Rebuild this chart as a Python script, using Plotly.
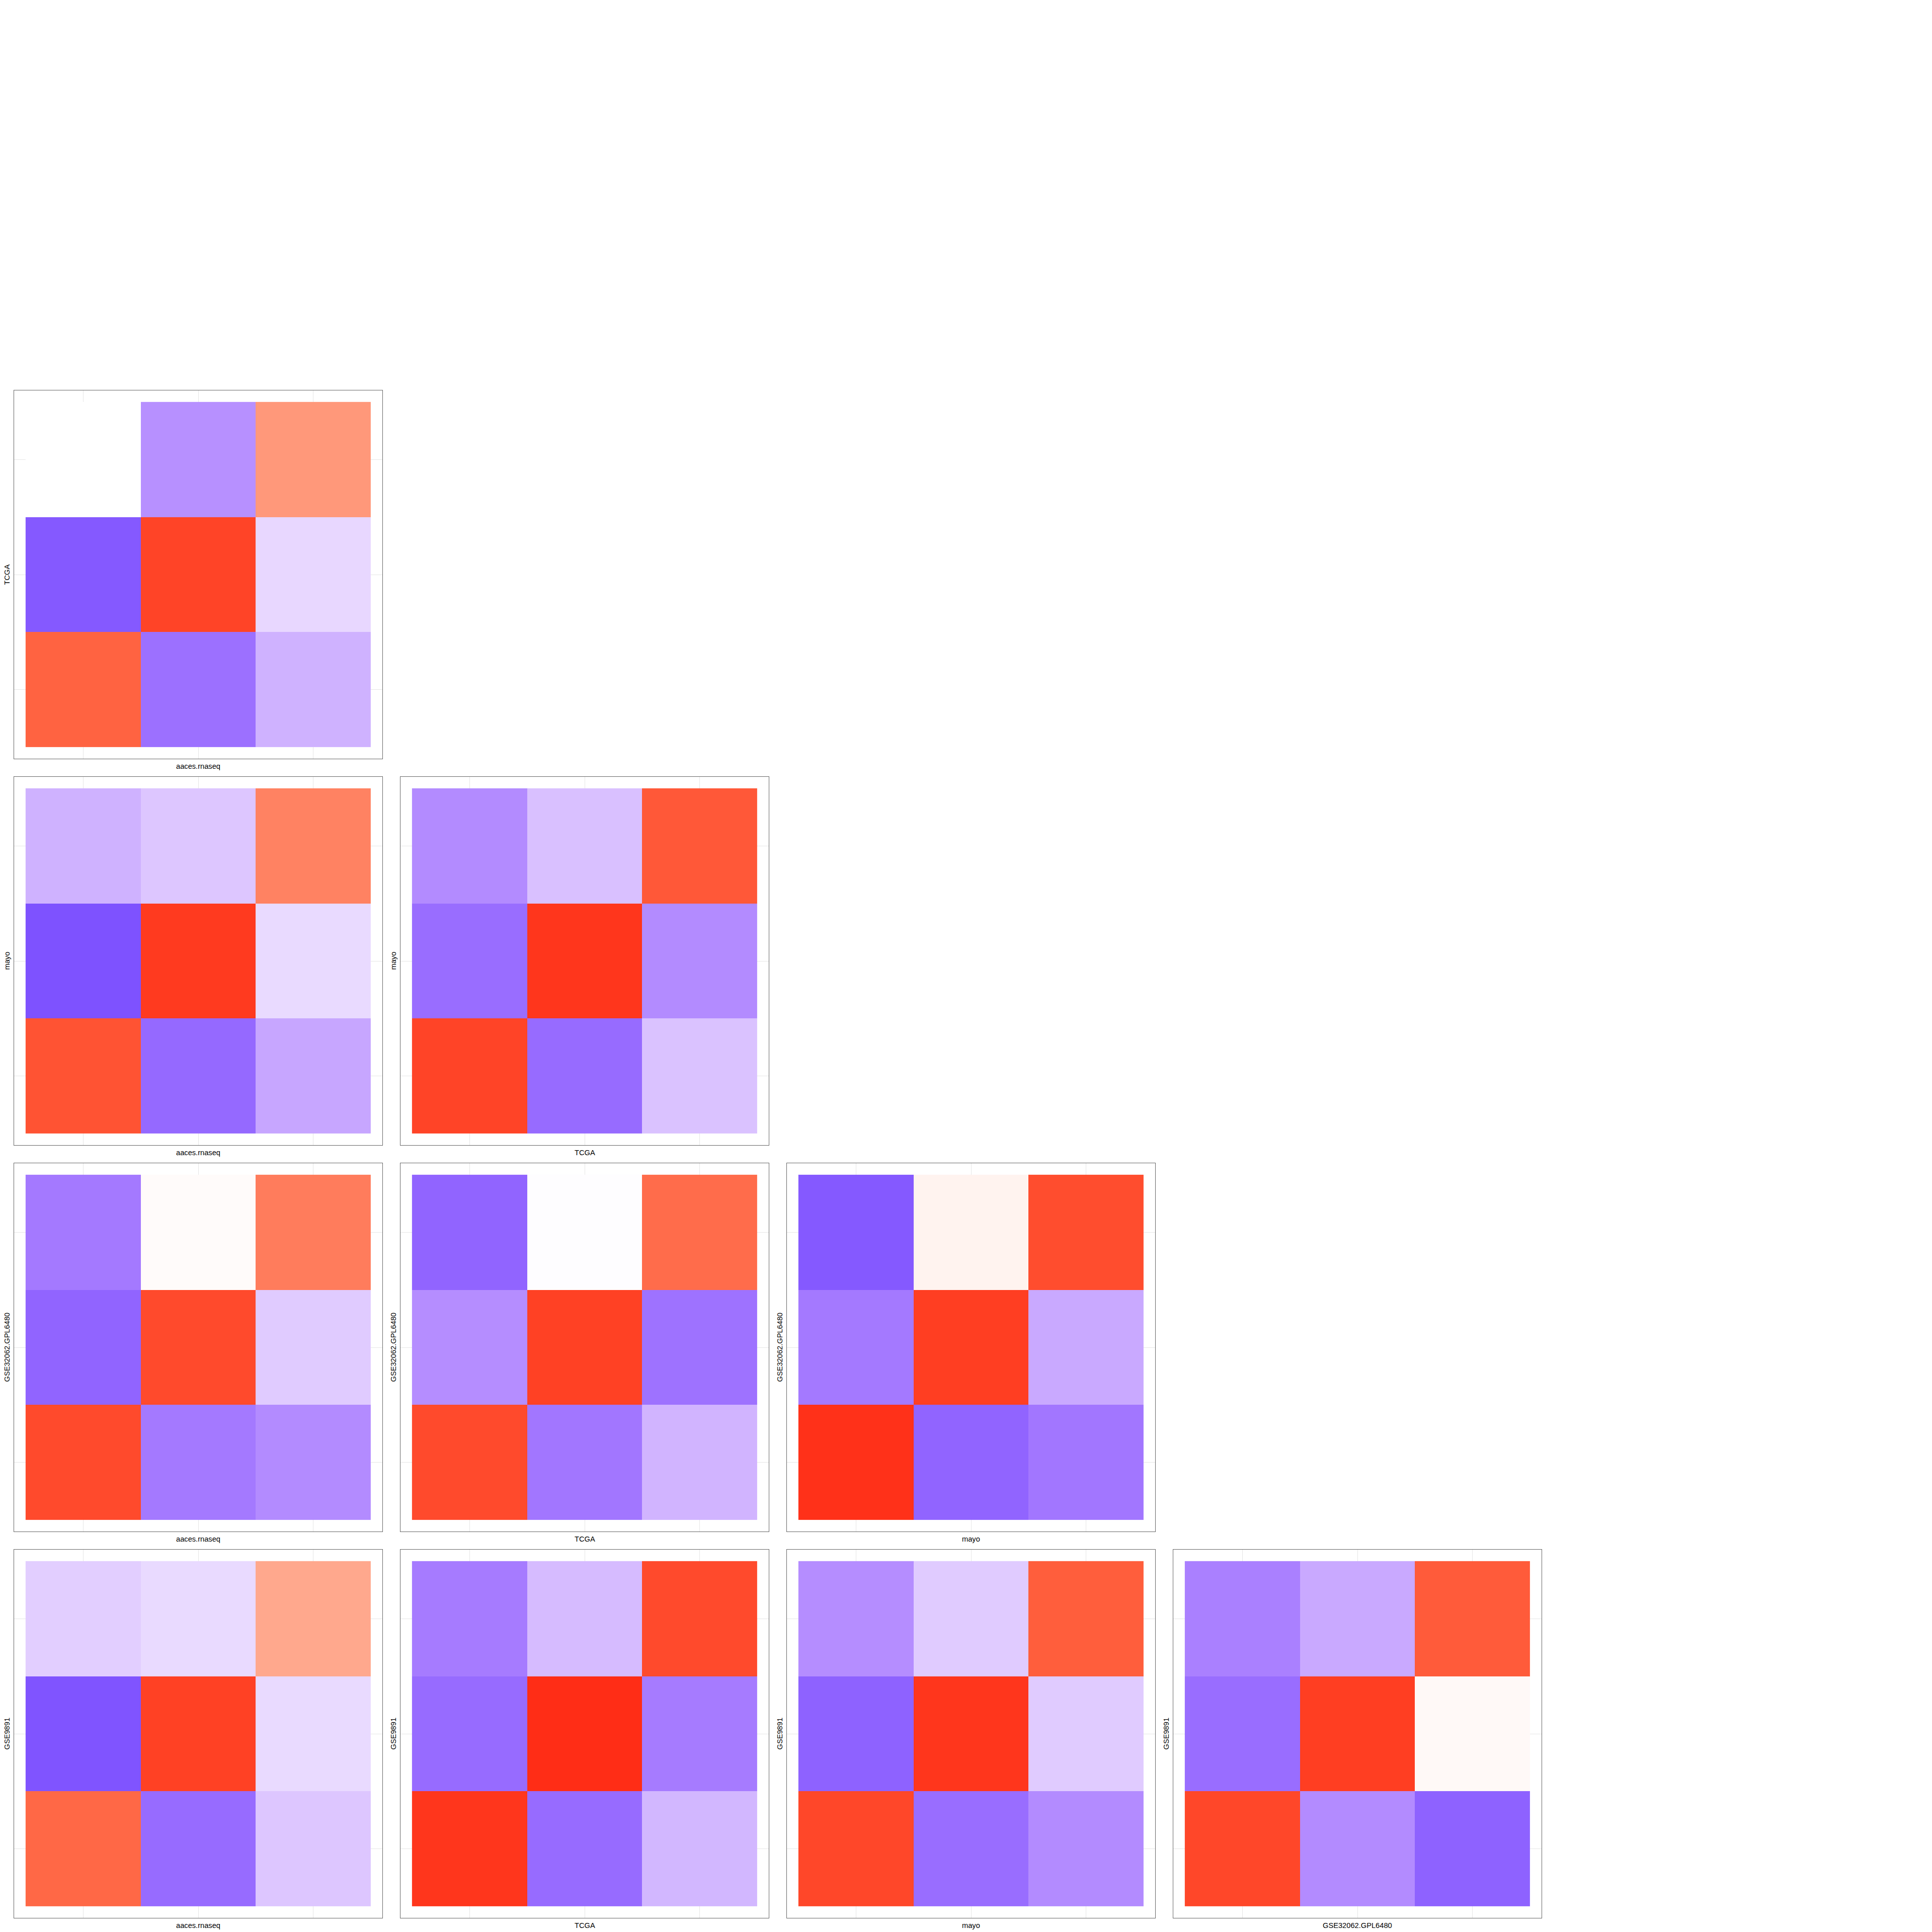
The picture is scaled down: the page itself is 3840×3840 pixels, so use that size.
import plotly.graph_objects as go

# ---------------- data ----------------
datasets = ["aaces.rnaseq", "TCGA", "mayo", "GSE32062.GPL6480", "GSE9891"]
x_clusters = [1, 2, 3]
y_clusters = [3, 2, 1]  # rows listed from top to bottom

# correlation matrices, rows top->bottom, columns left->right
tcga_vs_aaces = [[0.00, -0.48, 0.53],
                 [-0.72, 0.88, -0.17],
                 [0.77, -0.62, -0.33]]
mayo_vs_aaces = [[-0.33, -0.24, 0.63],
                 [-0.75, 0.91, -0.16],
                 [0.83, -0.65, -0.38]]
mayo_vs_tcga = [[-0.50, -0.27, 0.81],
                [-0.63, 0.92, -0.50],
                [0.88, -0.64, -0.26]]
gse32062_vs_aaces = [[-0.58, 0.02, 0.66],
                     [-0.67, 0.86, -0.22],
                     [0.86, -0.58, -0.50]]
gse32062_vs_tcga = [[-0.67, -0.01, 0.73],
                    [-0.49, 0.89, -0.61],
                    [0.86, -0.59, -0.32]]
gse32062_vs_mayo = [[-0.72, 0.06, 0.85],
                    [-0.58, 0.90, -0.37],
                    [0.93, -0.67, -0.59]]
gse9891_vs_aaces = [[-0.21, -0.16, 0.45],
                    [-0.74, 0.89, -0.16],
                    [0.75, -0.64, -0.24]]
gse9891_vs_tcga = [[-0.57, -0.29, 0.86],
                   [-0.64, 0.94, -0.57],
                   [0.92, -0.64, -0.31]]
gse9891_vs_mayo = [[-0.49, -0.22, 0.79],
                   [-0.68, 0.92, -0.22],
                   [0.87, -0.63, -0.50]]
gse9891_vs_gse32062 = [[-0.55, -0.37, 0.80],
                       [-0.63, 0.90, 0.03],
                       [0.87, -0.50, -0.68]]

panels = [
    (1, 0, tcga_vs_aaces),
    (2, 0, mayo_vs_aaces),
    (2, 1, mayo_vs_tcga),
    (3, 0, gse32062_vs_aaces),
    (3, 1, gse32062_vs_tcga),
    (3, 2, gse32062_vs_mayo),
    (4, 0, gse9891_vs_aaces),
    (4, 1, gse9891_vs_tcga),
    (4, 2, gse9891_vs_mayo),
    (4, 3, gse9891_vs_gse32062),
]

# ---------------- colour scale (Lab interpolation, blue-white-red) ----------------
def srgb_to_lin(c):
    c = c / 255.0
    return c / 12.92 if c <= 0.04045 else ((c + 0.055) / 1.055) ** 2.4

def lin_to_srgb(c):
    c = max(0.0, min(1.0, c))
    v = 12.92 * c if c <= 0.0031308 else 1.055 * c ** (1 / 2.4) - 0.055
    return int(round(max(0, min(1, v)) * 255))

def rgb_to_lab(rgb):
    r, g, b = [srgb_to_lin(v) for v in rgb]
    X = 0.4124 * r + 0.3576 * g + 0.1805 * b
    Y = 0.2126 * r + 0.7152 * g + 0.0722 * b
    Z = 0.0193 * r + 0.1192 * g + 0.9505 * b
    Xn, Yn, Zn = 0.95047, 1.0, 1.08883
    def f(t):
        return t ** (1 / 3) if t > 0.008856 else 7.787 * t + 16 / 116
    fx, fy, fz = f(X / Xn), f(Y / Yn), f(Z / Zn)
    return (116 * fy - 16, 500 * (fx - fy), 200 * (fy - fz))

def lab_to_rgb(lab):
    L, a, b = lab
    fy = (L + 16) / 116
    fx = fy + a / 500
    fz = fy - b / 200
    def finv(t):
        return t ** 3 if t ** 3 > 0.008856 else (t - 16 / 116) / 7.787
    X, Y, Z = 0.95047 * finv(fx), finv(fy), 1.08883 * finv(fz)
    r = 3.2406 * X - 1.5372 * Y - 0.4986 * Z
    g = -0.9689 * X + 1.8758 * Y + 0.0415 * Z
    bb = 0.0557 * X - 0.2040 * Y + 1.0570 * Z
    return (lin_to_srgb(r), lin_to_srgb(g), lin_to_srgb(bb))

low_lab = rgb_to_lab((0, 0, 255))
mid_lab = rgb_to_lab((255, 255, 255))
high_lab = rgb_to_lab((255, 0, 0))

colorscale = []
n = 40
for i in range(n + 1):
    v = -1 + 2 * i / n
    if v < 0:
        t = -v
        lab = tuple(m + (l - m) * t for m, l in zip(mid_lab, low_lab))
    else:
        t = v
        lab = tuple(m + (h - m) * t for m, h in zip(mid_lab, high_lab))
    r, g, b = lab_to_rgb(lab)
    colorscale.append([i / n, f"rgb({r},{g},{b})"])

# ---------------- figure ----------------
W = 3840
cell = 768
fig = go.Figure()
annotations = []
font = dict(family="Liberation Sans, Arial, sans-serif", size=14.67, color="black")

for k, (r, c, z) in enumerate(panels):
    idx = k + 1
    xa = "x" if idx == 1 else f"x{idx}"
    ya = "y" if idx == 1 else f"y{idx}"
    fig.add_trace(go.Heatmap(
        x=x_clusters, y=y_clusters, z=z,
        colorscale=colorscale, zmin=-1, zmax=1, showscale=False,
        xaxis=xa, yaxis=ya, hoverongaps=False,
    ))
    left = cell * c + 28
    right = cell * c + 760
    top = cell * r + 8
    bottom = cell * r + 740
    axis_common = dict(
        range=[0.4, 3.6], tickvals=[1, 2, 3], showticklabels=False, ticks="",
        showgrid=True, gridcolor="#E6E6E6", gridwidth=1, zeroline=False,
        showline=True, linecolor="#666666", linewidth=1, mirror=True,
        fixedrange=True,
    )
    fig.layout[("xaxis" if idx == 1 else f"xaxis{idx}")] = dict(
        domain=[left / W, right / W], anchor=ya, **axis_common)
    fig.layout[("yaxis" if idx == 1 else f"yaxis{idx}")] = dict(
        domain=[1 - bottom / W, 1 - top / W], anchor=xa, **axis_common)
    annotations.append(dict(
        text=datasets[c], xref="paper", yref="paper",
        x=(left + right) / 2 / W, y=1 - (bottom + 15) / W,
        xanchor="center", yanchor="middle", showarrow=False, font=font))
    annotations.append(dict(
        text=datasets[r], xref="paper", yref="paper",
        x=(left - 14.5) / W, y=1 - (top + bottom) / 2 / W, textangle=-90,
        xanchor="center", yanchor="middle", showarrow=False, font=font))

fig.update_layout(
    width=W, height=W, margin=dict(l=0, r=0, t=0, b=0),
    paper_bgcolor="white", plot_bgcolor="white",
    showlegend=False, annotations=annotations,
)
fig.write_html("out.html")
